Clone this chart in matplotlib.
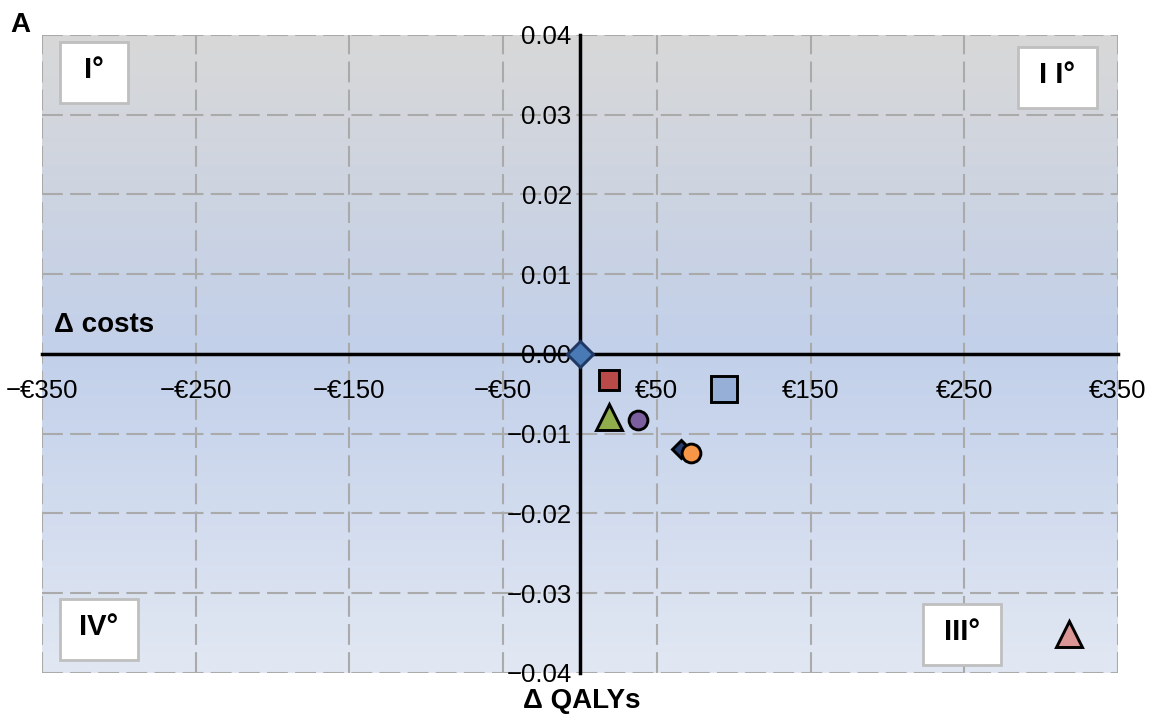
import matplotlib.pyplot as plt
import numpy as np
from matplotlib.patches import Rectangle
from matplotlib.colors import LinearSegmentedColormap

plt.rcParams['font.family'] = ['Liberation Sans', 'DejaVu Sans']

# data
delta_cost = [0, 19, 94, 19, 38, 66, 72, 318]
delta_qaly = [0.0, -0.0033, -0.0044, -0.0079, -0.0083, -0.0119, -0.0124, -0.0351]

x_ticks = [-350, -250, -150, -50, 50, 150, 250, 350]
y_ticks = [-0.04, -0.03, -0.02, -0.01, 0.0, 0.01, 0.02, 0.03, 0.04]
quadrants = ['I°', 'I I°', 'IV°', 'III°']

# styles
markers = ['D', 's', 's', '^', 'o', 'D', 'o', '^']
colors = ['#4a7ab5', '#b94a48', '#95afd6', '#8fad4a', '#7b5e9e', '#243d6e', '#f79646', '#d99694']
msizes = [13, 14, 18.5, 19, 13.5, 9, 13.5, 19]
quad_boxes = [(0.0167, 0.893, 0.0632), (0.907, 0.886, 0.0734),
              (0.0167, 0.0204, 0.0725), (0.819, 0.0125, 0.0725)]

fig = plt.figure(figsize=(11.51, 7.17), dpi=100)
ax = fig.add_axes([0.0365, 0.0614, 0.9348, 0.8898])
ax.set_xlim(-350, 350)
ax.set_ylim(-0.04, 0.04)

# gradient background: grey top, blue middle, pale bottom
cmap = LinearSegmentedColormap.from_list('bg', [(0, '#e2e8f3'), (0.5, '#c2d0ea'), (1, '#d8d8d8')])
grad = np.linspace(0, 1, 256).reshape(-1, 1)
ax.imshow(grad, aspect='auto', cmap=cmap, origin='lower',
          extent=[-350, 350, -0.04, 0.04], zorder=0)

ax.set_xticks(x_ticks)
ax.set_yticks(y_ticks)
ax.set_xticklabels([('−€%d' % -v) if v < 0 else ('€%d' % v) for v in x_ticks])
ax.set_yticklabels([('−%.2f' % -v) if v < 0 else ('%.2f' % v) for v in y_ticks])
ax.tick_params(length=0, labelsize=18.5)
ax.tick_params(axis='x', pad=18)
ax.tick_params(axis='y', pad=6)

ax.grid(True, color='#aaaaaa', linestyle=(0, (10, 3.5)), linewidth=1.5, zorder=1)
ax.set_axisbelow(True)

for s in ['top', 'right']:
    ax.spines[s].set_visible(False)
ax.spines['bottom'].set_position('zero')
ax.spines['left'].set_position('zero')
for s in ['bottom', 'left']:
    ax.spines[s].set_linewidth(2.5)
    ax.spines[s].set_color('black')
    ax.spines[s].set_zorder(3)

order = [1, 2, 3, 4, 5, 6, 7, 0]
for i in order:
    ax.plot(delta_cost[i], delta_qaly[i], marker=markers[i], markersize=msizes[i],
            markerfacecolor=colors[i], markeredgecolor='black' if i != 0 else '#1f3864',
            markeredgewidth=2.1, linestyle='none', zorder=5, clip_on=False)

for (bx, by, bw), lab in zip(quad_boxes, quadrants):
    ax.add_patch(Rectangle((bx, by), bw, 0.0956, transform=ax.transAxes,
                           facecolor='white', edgecolor='#bfbfbf', linewidth=2, zorder=4))
    ax.text(bx + bw / 2, by + 0.0956 / 2 + 0.004, lab, transform=ax.transAxes,
            ha='center', va='center', fontsize=21, fontweight='bold', zorder=6)

ax.text(-342, 0.0027, 'Δ costs', fontsize=20, fontweight='bold', ha='left', va='baseline', zorder=6)
fig.text(0.505, 0.0126, 'Δ QALYs', fontsize=20, fontweight='bold', ha='center', va='baseline')
fig.text(0.0087, 0.955, 'A', fontsize=20, fontweight='bold', ha='left', va='baseline')

plt.savefig('out.png', dpi=100)
